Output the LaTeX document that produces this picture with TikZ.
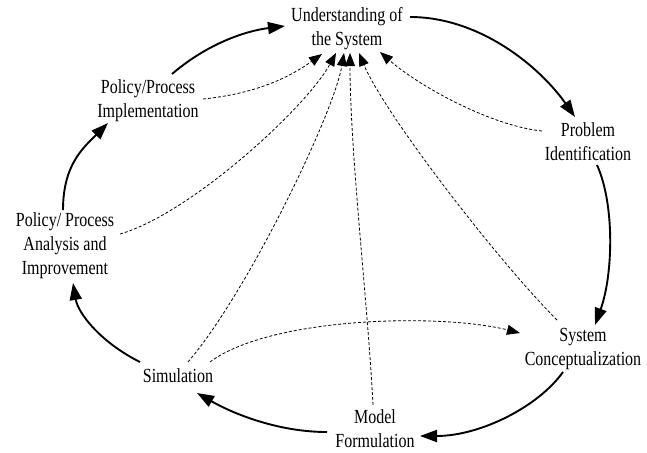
\documentclass[tikz,border=0pt]{standalone}
\usepackage{fontspec}
\setmainfont[FakeStretch=0.8]{Liberation Serif}
\usetikzlibrary{arrows.meta,calc}
\begin{document}
\begin{tikzpicture}[x=1pt,y=-1pt,
  lbl/.style={align=center,inner sep=0pt,font=\fontsize{20}{24}\selectfont},
  solidarr/.style={line width=1.9pt,-{Triangle[length=17pt,width=12pt]}},
  dasharr/.style={line width=0.8pt,dash pattern=on 3pt off 2pt,-{Triangle[length=13pt,width=10pt]}}]
\useasboundingbox (0,0) rectangle (647,452);
\node[lbl] (und) at (347,29) {Understanding of\\the System};
\node[lbl] (impl) at (148,101) {Policy/Process\\Implementation};
\node[lbl] (ana) at (65,246) {Policy/ Process\\Analysis and\\Improvement};
\node[lbl] (sim) at (178,376) {Simulation};
\node[lbl] (mod) at (375,429) {Model\\Formulation};
\node[lbl] (sys) at (583,349) {System\\Conceptualization};
\node[lbl] (prob) at (588,142) {Problem\\Identification};
% solid cycle
\draw[solidarr] ($(und)+(63,-12)$) .. controls +(70,0) and +(-35,-50) .. ($(prob)+(-13,-25)$);
\draw[solidarr] ($(prob)+(9,23)$) .. controls +(18,40) and +(18,-50) .. ($(sys)+(12,-24)$);
\draw[solidarr] ($(sys)+(-20,23)$) .. controls +(-25,35) and +(60,0) .. ($(mod)+(45,7)$);
\draw[solidarr] ($(mod)+(-48,3)$) .. controls +(-50,0) and +(35,20) .. ($(sim)+(19,17)$);
\draw[solidarr] ($(sim)+(-38,-14)$) .. controls +(-40,-20) and +(5,30) .. ($(ana)+(8,37)$);
\draw[solidarr] ($(ana)+(-2,-36)$) .. controls +(0,-45) and +(-25,25) .. ($(impl)+(-40,22)$);
\draw[solidarr] ($(impl)+(24,-27)$) .. controls +(35,-30) and +(-40,5) .. ($(und)+(-62,-3)$);
% dashed influences
\draw[dasharr] ($(impl)+(55,-2)$) .. controls +(50,-5) and +(-35,25) .. ($(und)+(-25,25)$);
\draw[dasharr] ($(ana)+(55,-12)$) .. controls +(70,-20) and +(-30,55) .. ($(und)+(-11,24)$);
\draw[dasharr] ($(sim)+(10,-14)$) .. controls +(60,-70) and +(-10,60) .. ($(und)+(-3,24)$);
\draw[dasharr] ($(mod)+(-2,-24)$) .. controls +(-5,-100) and +(0,100) .. ($(und)+(3,24)$);
\draw[dasharr] ($(sys)+(-26,-29)$) .. controls +(-60,-60) and +(25,60) .. ($(und)+(12,24)$);
\draw[dasharr] ($(prob)+(-46,-11)$) .. controls +(-50,-5) and +(40,35) .. ($(und)+(33,23)$);
\draw[dasharr] ($(sim)+(32,-14)$) .. controls +(60,-45) and +(-80,-20) .. ($(sys)+(-63,-16)$);
\end{tikzpicture}
\end{document}
